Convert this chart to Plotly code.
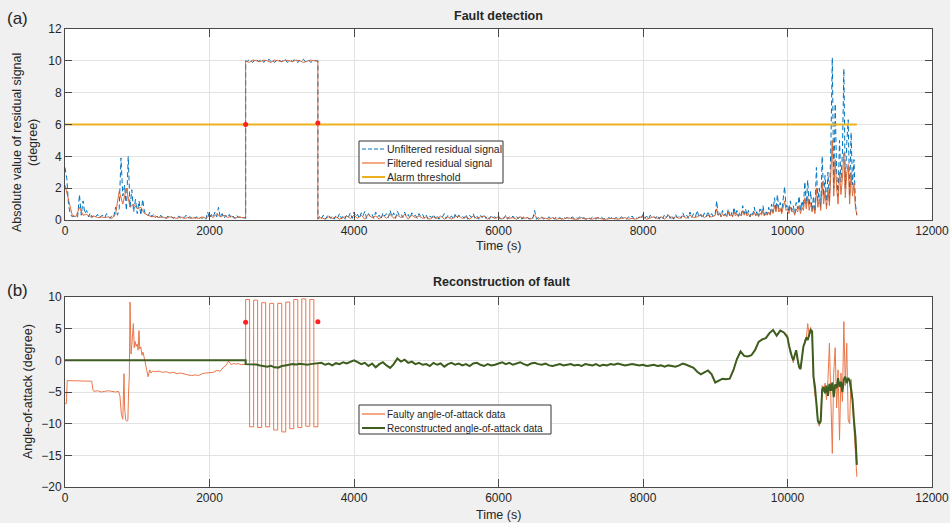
import numpy as np
import plotly.graph_objects as go

# ---------------- Panel (a): residual signals ----------------
# unfiltered residual, 0-2500 s sampled every 25 s
unfiltered_pre = [
    3.3, 2.6, 0.9, 0.35, 0.2, 0.25, 0.15, 0.2, 1.6, 0.3,
    1.2, 0.4, 0.6, 0.2, 0.45, 0.15, 0.3, 0.2, 0.35, 0.1,
    0.25, 0.3, 0.15, 0.4, 0.2, 0.1, 0.3, 0.2, 0.8, 0.3,
    0.7, 3.9, 1.5, 2.2, 0.6, 4.0, 0.8, 1.9, 0.5, 1.3,
    0.4, 1.2, 0.3, 1.3, 0.5, 0.4, 0.25, 0.5, 0.2, 0.35,
    0.15, 0.25, 0.1, 0.3, 0.15, 0.2, 0.1, 0.25, 0.15, 0.2,
    0.1, 0.2, 0.15, 0.25, 0.1, 0.2, 0.15, 0.3, 0.1, 0.2,
    0.15, 0.25, 0.1, 0.2, 0.05, 0.15, 0.1, 0.2, 0.05, 0.5,
    0.1, 0.35, 0.15, 0.5, 0.2, 0.8, 0.15, 0.4, 0.1, 0.3,
    0.15, 0.35, 0.1, 0.25, 0.1, 0.3, 0.15, 0.2, 0.1, 0.15,
    0.1,
]
# unfiltered residual during the injected fault, 2500-3500 s every 25 s
unfiltered_fault = [
    10.0, 9.95, 10.1, 10.0, 9.9, 10.05, 10.1, 9.95, 10.0, 10.1,
    9.9, 10.05, 10.0, 10.1, 9.95, 10.05, 9.9, 10.0, 10.1, 10.0,
    9.95, 10.05, 10.1, 9.9, 10.0, 10.05, 9.95, 10.1, 10.0, 9.9,
    10.05, 10.0, 10.1, 9.95, 10.0, 10.05, 9.9, 10.0, 10.05, 10.0,
    10.0,
]
# unfiltered residual, 3500-8975 s every 25 s
unfiltered_mid = [
    0.05, 0.25, 0.1, 0.3, 0.05, 0.2, 0.35, 0.1, 0.25, 0.05,
    0.3, 0.15, 0.4, 0.1, 0.25, 0.05, 0.35, 0.2, 0.45, 0.1,
    0.5, 0.2, 0.35, 0.1, 0.45, 0.25, 0.55, 0.1, 0.4, 0.2,
    0.35, 0.1, 0.5, 0.2, 0.3, 0.05, 0.45, 0.25, 0.4, 0.15,
    0.6, 0.2, 0.45, 0.1, 0.55, 0.3, 0.4, 0.15, 0.5, 0.2,
    0.35, 0.1, 0.45, 0.25, 0.3, 0.1, 0.4, 0.2, 0.35, 0.1,
    0.3, 0.05, 0.25, 0.15, 0.35, 0.1, 0.3, 0.05, 0.25, 0.2,
    0.4, 0.1, 0.3, 0.15, 0.25, 0.05, 0.35, 0.1, 0.3, 0.2,
    0.25, 0.1, 0.35, 0.05, 0.3, 0.15, 0.4, 0.1, 0.25, 0.05,
    0.3, 0.15, 0.35, 0.1, 0.25, 0.05, 0.3, 0.15, 0.2, 0.1,
    0.25, 0.05, 0.2, 0.1, 0.3, 0.05, 0.2, 0.1, 0.25, 0.05,
    0.2, 0.1, 0.25, 0.05, 0.2, 0.1, 0.15, 0.05, 0.2, 0.1,
    0.6, 0.05, 0.15, 0.1, 0.2, 0.05, 0.15, 0.1, 0.2, 0.05,
    0.15, 0.05, 0.2, 0.1, 0.15, 0.05, 0.2, 0.1, 0.15, 0.05,
    0.1, 0.2, 0.05, 0.15, 0.1, 0.2, 0.05, 0.15, 0.1, 0.05,
    0.15, 0.05, 0.2, 0.1, 0.05, 0.15, 0.1, 0.2, 0.05, 0.1,
    0.05, 0.15, 0.1, 0.2, 0.05, 0.15, 0.1, 0.05, 0.2, 0.1,
    0.15, 0.05, 0.2, 0.1, 0.25, 0.05, 0.15, 0.1, 0.2, 0.05,
    0.35, 0.1, 0.25, 0.05, 0.3, 0.15, 0.2, 0.1, 0.3, 0.05,
    0.25, 0.1, 0.35, 0.15, 0.4, 0.1, 0.3, 0.05, 0.35, 0.15,
    0.3, 0.1, 0.45, 0.2, 0.35, 0.1, 0.5, 0.15, 0.4, 0.2,
    0.6, 0.15, 0.35, 0.1, 0.45, 0.2, 0.55, 0.15, 0.4, 0.2,
]
# unfiltered residual, 9000-10960 s every 20 s
unfiltered_end = [
    0.4, 1.2, 0.3, 0.5, 0.2, 0.6, 0.3, 0.4, 0.2, 0.7,
    0.3, 0.5, 0.2, 0.8, 0.3, 0.6, 0.25, 0.5, 0.3, 0.9,
    0.4, 0.7, 0.3, 0.6, 0.2, 0.5, 0.35, 0.8, 0.3, 0.6,
    0.25, 0.7, 0.4, 0.9, 0.3, 0.6, 0.35, 0.8, 0.4, 1.0,
    0.5, 1.4, 0.6, 1.6, 0.7, 1.1, 0.5, 1.3, 2.1, 0.8,
    1.0, 0.5, 1.2, 0.6, 0.9, 0.4, 1.1, 0.7, 1.5, 0.6,
    1.2, 0.8, 2.4, 1.0, 2.5, 0.9, 1.8, 0.6, 1.5, 0.5,
    3.3, 1.2, 2.0, 0.8, 4.0, 1.5, 2.8, 0.9, 3.0, 1.2,
    4.6, 10.2, 2.0, 7.3, 3.0, 1.5, 5.0, 2.4, 4.2, 9.5,
    2.0, 4.8, 6.3, 1.5, 5.5, 2.2, 3.8, 1.0, 0.3,
]

# filtered residual, 0-2500 s every 50 s
filtered_pre = [
    2.2, 1.2, 0.3, 0.2, 0.8, 0.3, 0.35, 0.2, 0.25, 0.15,
    0.2, 0.15, 0.2, 0.1, 0.4, 1.8, 1.0, 2.0, 0.8, 1.0,
    0.7, 0.8, 0.4, 0.3, 0.2, 0.25, 0.15, 0.2, 0.1, 0.2,
    0.15, 0.1, 0.2, 0.1, 0.15, 0.1, 0.15, 0.1, 0.2, 0.1,
    0.3, 0.15, 0.4, 0.2, 0.3, 0.15, 0.25, 0.1, 0.2, 0.15,
    0.15,
]
# filtered residual during the fault, 2500-3500 s every 50 s
filtered_fault = [
    10.0, 9.9, 10.05, 10.0, 9.95, 10.05, 10.0, 9.9, 10.05, 10.0,
    9.95, 10.05, 10.0, 9.95, 10.05, 10.0, 9.9, 10.0, 10.05, 10.0,
    10.0,
]
# filtered residual, 3500-8950 s every 50 s
filtered_mid = [
    0.1, 0.15, 0.05, 0.2, 0.1, 0.2, 0.05, 0.15, 0.25, 0.1,
    0.3, 0.1, 0.3, 0.05, 0.35, 0.15, 0.25, 0.05, 0.3, 0.1,
    0.35, 0.1, 0.3, 0.15, 0.35, 0.05, 0.3, 0.15, 0.25, 0.1,
    0.2, 0.05, 0.2, 0.1, 0.25, 0.05, 0.2, 0.05, 0.2, 0.25,
    0.1, 0.2, 0.05, 0.25, 0.1, 0.2, 0.25, 0.05, 0.2, 0.1,
    0.2, 0.05, 0.2, 0.1, 0.15, 0.05, 0.2, 0.1, 0.15, 0.05,
    0.3, 0.05, 0.15, 0.1, 0.05, 0.15, 0.05, 0.1, 0.05, 0.15,
    0.1, 0.05, 0.05, 0.15, 0.05, 0.1, 0.05, 0.15, 0.1, 0.05,
    0.05, 0.1, 0.1, 0.05, 0.1, 0.15, 0.05, 0.1, 0.05, 0.15,
    0.25, 0.05, 0.15, 0.2, 0.1, 0.2, 0.05, 0.3, 0.1, 0.2,
    0.1, 0.25, 0.1, 0.3, 0.15, 0.2, 0.35, 0.15, 0.3, 0.2,
]
# filtered residual, 9000-10960 s every 20 s
filtered_end = [
    0.3, 0.7, 0.3, 0.4, 0.2, 0.4, 0.25, 0.3, 0.2, 0.5,
    0.25, 0.35, 0.2, 0.5, 0.25, 0.4, 0.2, 0.35, 0.25, 0.6,
    0.3, 0.5, 0.25, 0.4, 0.2, 0.35, 0.3, 0.5, 0.25, 0.4,
    0.2, 0.45, 0.3, 0.6, 0.25, 0.4, 0.3, 0.5, 0.3, 0.7,
    0.4, 0.9, 0.5, 1.0, 0.5, 0.7, 0.4, 0.8, 1.2, 0.6,
    0.7, 0.4, 0.8, 0.5, 0.6, 0.3, 0.7, 0.5, 0.9, 0.4,
    0.8, 0.6, 1.4, 0.7, 1.5, 0.6, 1.1, 0.5, 0.9, 0.4,
    2.0, 0.8, 1.3, 0.6, 2.4, 1.0, 1.8, 0.7, 1.9, 0.9,
    2.8, 5.0, 1.5, 3.8, 2.0, 1.0, 3.0, 1.6, 2.6, 4.2,
    1.4, 2.9, 3.5, 1.0, 3.0, 1.5, 2.3, 0.8, 0.3,
]

threshold_time = [0, 10960]
threshold_level = [6, 6]

# detection instants (fault start / fault end)
detect_time = [2500, 3500]
detect_residual = [6.0, 6.1]

# ---------------- Panel (b): angle-of-attack ----------------
faulty_pre_time = [
    0, 20, 30, 100, 200, 300, 370, 385, 400, 450,
    500, 550, 600, 650, 700, 740, 760, 780, 800, 810,
    817, 825, 840, 853, 870, 880, 890, 900, 908, 914,
    925, 946, 958, 969, 985, 1000, 1012, 1024, 1035, 1050,
    1065, 1080, 1095, 1110, 1135, 1150, 1172, 1190, 1210, 1250,
    1300, 1350, 1400, 1450, 1500, 1550, 1600, 1650, 1700, 1750,
    1800, 1850, 1900, 1950, 2000, 2050, 2100, 2150, 2200, 2230,
    2265, 2300, 2330, 2370, 2400, 2440, 2500,
]
faulty_pre_aoa = [
    -6.8, -6.8, -3.2, -3.2, -3.25, -3.2, -3.3, -4.6, -4.9, -4.8,
    -5.0, -4.9, -4.8, -4.9, -5.0, -4.9, -5.6, -8.5, -9.3, -5.0,
    -2.1, -7.5, -9.4, -9.6, -9.5, -5.0, -2.6, 9.2, 4.0, 1.0,
    2.5, 5.8, 2.0, 3.0, 2.2, 2.6, 1.6, 4.7, 1.8, 2.1,
    0.8, 1.3, 0.5, -0.5, -1.6, -2.6, -1.5, -2.0, -1.7, -1.8,
    -1.7, -1.9, -1.8, -2.0, -1.9, -2.1, -2.0, -2.2, -2.3, -2.4,
    -2.3, -2.4, -2.1, -2.0, -2.0, -1.9, -1.6, -1.7, -1.0, -0.8,
    -0.1, -0.7, -0.5, -0.6, -0.5, -0.7, -0.6,
]

# injected oscillatory fault: switching instants and plateau levels
fault_edges = [2500, 2555, 2611, 2666, 2722, 2777, 2833, 2888, 2944, 3000,
               3055, 3111, 3166, 3222, 3277, 3333, 3388, 3444, 3500]
fault_levels = [9.6, -10.5, 9.5, -10.6, 9.1, -10.5, 9.0, -11.0, 9.0, -11.3,
                9.2, -10.8, 9.6, -10.6, 9.7, -10.4, 9.6, -10.5]

recon_pre_time = [0, 2500]
recon_pre_aoa = [0.0, 0.0]
# reconstruction during the fault, 2500-3450 s every 50 s
recon_fault_aoa = [
    -0.6, -0.6, -0.7, -0.65, -0.8, -0.9, -1.0, -0.85, -1.1, -1.15,
    -0.9, -0.8, -0.7, -0.6, -0.65, -0.55, -0.6, -0.7, -0.6, -0.55,
]
# healthy sensor: measured and reconstructed coincide, 3500-9950 s every 50 s
shared_aoa = [
    -0.55, -0.4, -0.7, -0.5, -0.8, -0.45, -0.6, -0.3, -0.5, -0.2,
    0.0, -0.3, -0.6, -0.4, -0.9, -0.5, -1.1, -0.6, -0.3, -0.8,
    -1.2, -0.6, 0.3, -0.2, 0.1, -0.4, -0.2, -0.6, -0.4, -0.7,
    -0.6, -0.9, -0.4, -0.7, -0.5, -1.0, -0.6, -0.4, -0.7, -0.5,
    -0.8, -0.6, -0.9, -0.5, -0.4, -0.7, -0.9, -0.6, -0.8, -0.7,
    -0.5, -0.3, -0.6, -0.4, -0.7, -0.5, -0.3, -0.6, -0.8, -0.5,
    -0.4, -0.6, -0.7, -0.5, -0.8, -0.9, -0.7, -0.6, -0.8, -0.7,
    -0.6, -0.8, -0.7, -0.9, -0.6, -0.7, -0.8, -0.6, -0.9, -0.7,
    -0.8, -0.6, -0.7, -0.5, -0.6, -0.8, -0.7, -0.6, -0.7, -0.8,
    -0.7, -0.9, -0.8, -0.7, -0.9, -0.8, -1.0, -0.8, -0.9, -1.0,
    -0.8, -0.5, -0.7, -1.0, -1.2, -1.8, -2.2, -1.9, -1.6, -2.2,
    -3.5, -3.2, -2.9, -3.0, -2.9, -1.6, 0.2, 1.4, 0.7, 0.6,
    0.8, 1.6, 2.9, 3.3, 3.5, 4.3, 4.8, 3.9, 4.7, 4.4,
]
# final part of the flight, 10000-10960 s every 20 s
recon_end_aoa = [
    3.6, 2.4, 1.2, 0.6, 0.0, 0.8, 1.6, 0.2, -1.0, -1.4,
    0.5, 2.2, 2.8, 3.6, 3.2, 4.2, 4.8, 4.6, -2.6, -4.2,
    -6.8, -9.5, -10.0, -9.6, -4.6, -4.2, -5.2, -4.0, -5.6, -3.7,
    -4.8, -3.5, -5.8, -3.8, -4.4, -2.8, -4.2, -3.4, -5.0, -3.0,
    -2.6, -3.6, -2.8, -3.2, -4.6, -6.2, -9.5, -12.0, -16.5,
]
faulty_end_aoa = [
    4.0, 2.2, 1.0, 0.8, -0.4, 1.0, 1.4, -0.2, -1.3, -1.2,
    0.8, 2.0, 3.2, 3.4, 5.8, 3.8, 5.2, 4.2, -3.2, -5.6,
    -6.2, -9.8, -10.4, -8.8, -4.0, -5.0, -3.6, -6.2, -3.0, 2.7,
    -6.0, -14.7, -2.0, 2.0, -7.5, -1.5, -12.6, -2.0, -6.5, 6.1,
    -4.0, 2.7, -9.4, -10.0, -3.0, -7.0, -9.0, -15.0, -18.4,
]
detect_aoa = [6.0, 6.1]


def stamps(start, step, values):
    return start + step * np.arange(len(values))


def step_wave(edges, levels):
    xs, ys = [], []
    for i, lv in enumerate(levels):
        xs += [edges[i], edges[i + 1]]
        ys += [lv, lv]
    return xs, ys


unf_t = np.concatenate([stamps(0, 25, unfiltered_pre), stamps(2500, 25, unfiltered_fault),
                        stamps(3500, 25, unfiltered_mid), stamps(9000, 20, unfiltered_end)])
unf_v = unfiltered_pre + unfiltered_fault + unfiltered_mid + unfiltered_end
flt_t = np.concatenate([stamps(0, 50, filtered_pre), stamps(2500, 50, filtered_fault),
                        stamps(3500, 50, filtered_mid), stamps(9000, 20, filtered_end)])
flt_v = filtered_pre + filtered_fault + filtered_mid + filtered_end

wave_t, wave_v = step_wave(fault_edges, fault_levels)
shared_t = stamps(3500, 50, shared_aoa)
end_t = stamps(10000, 20, recon_end_aoa)

faulty_t = np.concatenate([faulty_pre_time, wave_t, shared_t, end_t])
faulty_v = faulty_pre_aoa + wave_v + shared_aoa + faulty_end_aoa
recon_t = np.concatenate([recon_pre_time, stamps(2500, 50, recon_fault_aoa), shared_t, end_t])
recon_v = recon_pre_aoa + recon_fault_aoa + shared_aoa + recon_end_aoa

BLUE = "#0072BD"
ORANGE = "#D95319"
SALMON = "#E8602C"
GOLD = "#EDB120"
GREEN = "#3D5E1F"
MARK = "#FF2020"
FONT = "Liberation Sans, Arial, Helvetica, sans-serif"
INK = "#262626"
W, H = 950, 523

fig = go.Figure()
fig.add_trace(go.Scatter(x=unf_t, y=unf_v, mode="lines", name="Unfiltered residual signal",
                         line=dict(color=BLUE, width=1, dash="5px,3px"), xaxis="x", yaxis="y"))
fig.add_trace(go.Scatter(x=flt_t, y=flt_v, mode="lines", name="Filtered residual signal",
                         line=dict(color=ORANGE, width=1), opacity=0.85, xaxis="x", yaxis="y"))
fig.add_trace(go.Scatter(x=threshold_time, y=threshold_level, mode="lines", name="Alarm threshold",
                         line=dict(color=GOLD, width=2), xaxis="x", yaxis="y"))
fig.add_trace(go.Scatter(x=detect_time, y=detect_residual, mode="markers",
                         marker=dict(color=MARK, size=5), xaxis="x", yaxis="y"))

fig.add_trace(go.Scatter(x=faulty_t, y=faulty_v, mode="lines", name="Faulty angle-of-attack data",
                         line=dict(color=SALMON, width=1), opacity=0.85, xaxis="x2", yaxis="y2"))
fig.add_trace(go.Scatter(x=recon_t, y=recon_v, mode="lines", name="Reconstructed angle-of-attack data",
                         line=dict(color=GREEN, width=2), xaxis="x2", yaxis="y2"))
fig.add_trace(go.Scatter(x=detect_time, y=detect_aoa, mode="markers",
                         marker=dict(color=MARK, size=5), xaxis="x2", yaxis="y2"))

xdom = [65 / W, 932 / W]
axis_common = dict(showline=True, linecolor="#4a4a4a", linewidth=1, mirror="ticks",
                   ticks="inside", tickcolor="#4a4a4a", showgrid=True, gridcolor="#e2e2e2",
                   zeroline=False, tickformat="d", automargin=False,
                   tickfont=dict(family=FONT, size=12, color=INK))

fig.update_layout(
    width=W, height=H, autosize=False, showlegend=False,
    margin=dict(l=0, r=0, t=0, b=0, pad=0, autoexpand=False),
    paper_bgcolor="#F0F0F0", plot_bgcolor="white",
    font=dict(family=FONT, color=INK),
    xaxis=dict(domain=xdom, range=[0, 12000], dtick=2000, tick0=0, ticklen=8, anchor="y", **axis_common),
    yaxis=dict(domain=[1 - 220 / H, 1 - 29 / H], range=[0, 12], dtick=2, ticklen=7, anchor="x", **axis_common),
    xaxis2=dict(domain=xdom, range=[0, 12000], dtick=2000, tick0=0, ticklen=8, anchor="y2", **axis_common),
    yaxis2=dict(domain=[1 - 487 / H, 1 - 297 / H], range=[-20, 10], dtick=5, ticklen=7, anchor="x2", **axis_common),
)


def px(x, y):
    return x / W, 1 - y / H


def label(text, x, y, size=12.5, bold=False, angle=0, anchor="center"):
    fx, fy = px(x, y)
    fig.add_annotation(text=f"<b>{text}</b>" if bold else text, x=fx, y=fy,
                       xref="paper", yref="paper", showarrow=False, textangle=angle,
                       font=dict(family=FONT, size=size, color=INK), xanchor=anchor, yanchor="middle")


def legend_box(x0, y0, x1, y1, entries, size):
    # entries: (row_y, colour, width, dash, text)
    fx0, fy0 = px(x0, y0)
    fx1, fy1 = px(x1, y1)
    fig.add_shape(type="rect", xref="paper", yref="paper", x0=fx0, y0=fy1, x1=fx1, y1=fy0,
                  fillcolor="white", line=dict(color="#333333", width=1), layer="above")
    for ry, colour, width, dash, text in entries:
        lx0, ly = px(x0 + 3, ry)
        lx1, _ = px(x0 + 26, ry)
        fig.add_shape(type="line", xref="paper", yref="paper", x0=lx0, y0=ly, x1=lx1, y1=ly,
                      line=dict(color=colour, width=width, dash=dash), layer="above")
        label(text, x0 + 26, ry, size=size, anchor="left")


legend_box(359, 141, 503, 183, [
    (149, BLUE, 1, "4px,2px", "Unfiltered residual signal"),
    (163, "#F08A5D", 1.5, "solid", "Filtered residual signal"),
    (177, GOLD, 2, "solid", "Alarm threshold"),
], size=10.5)
legend_box(359, 405, 551, 434, [
    (414, "#F08A5D", 1.5, "solid", "Faulty angle-of-attack data"),
    (428, GREEN, 2, "solid", "Reconstructed angle-of-attack data"),
], size=10)

label("(a)", 17, 18, size=17)
label("(b)", 17, 290, size=17)
label("Fault detection", 498, 16, bold=True)
label("Reconstruction of fault", 502, 282, bold=True)
label("Time (s)", 498, 246)
label("Time (s)", 498, 515)
label("Absolute value of residual signal<br>(degree)", 25, 143, angle=-90)
label("Angle-of-attack (degree)", 28, 392, angle=-90)

fig.write_html("out.html")
